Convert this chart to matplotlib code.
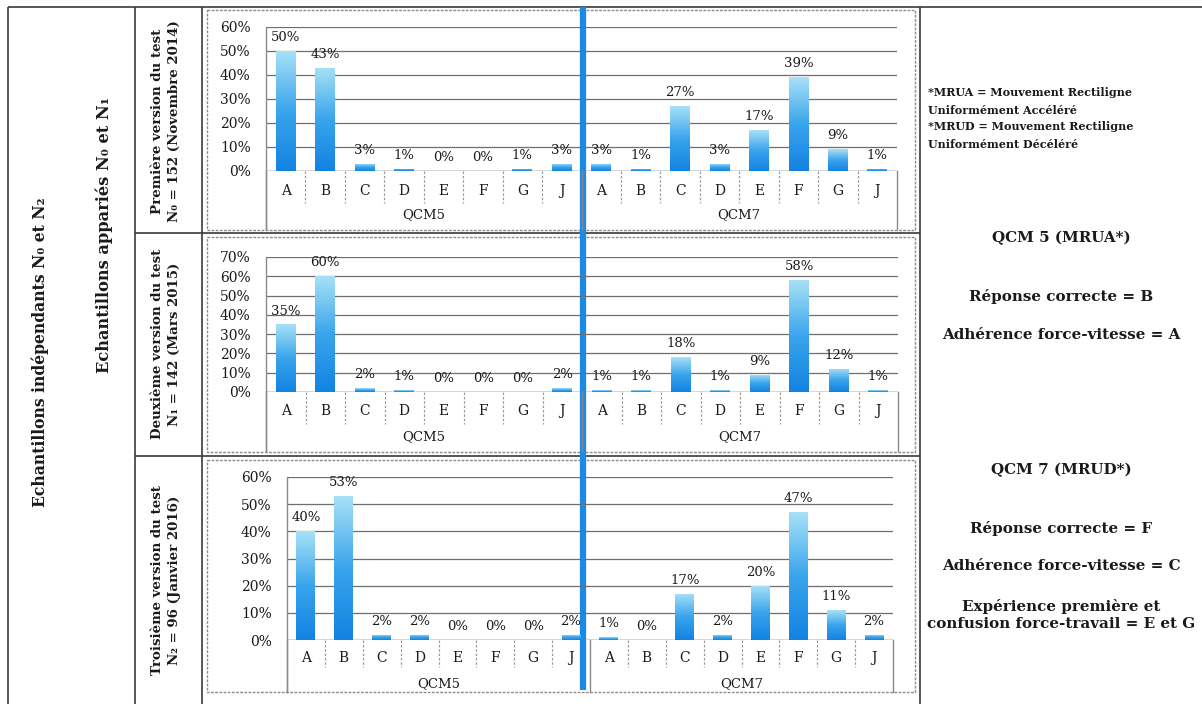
import numpy as np
import matplotlib
matplotlib.use('Agg')
import matplotlib.pyplot as plt
from matplotlib.colors import LinearSegmentedColormap

W, H = 1202, 704

categories = ['A', 'B', 'C', 'D', 'E', 'F', 'G', 'J']
groups = ['QCM5', 'QCM7']

p1_qcm5 = [50, 43, 3, 1, 0, 0, 1, 3]
p1_qcm7 = [3, 1, 27, 3, 17, 39, 9, 1]
p2_qcm5 = [35, 60, 2, 1, 0, 0, 0, 2]
p2_qcm7 = [1, 1, 18, 1, 9, 58, 12, 1]
p3_qcm5 = [40, 53, 2, 2, 0, 0, 0, 2]
p3_qcm7 = [1, 0, 17, 2, 20, 47, 11, 2]
y_max = [60, 70, 60]

row_titles = [
    ('Première version du test', 'N₀ = 152 (Novembre 2014)'),
    ('Deuxième version du test', 'N₁ = 142 (Mars 2015)'),
    ('Troisième version du test', 'N₂ = 96 (Janvier 2016)'),
]
col_title_outer = 'Echantillons indépendants N₀ et N₂'
col_title_inner = 'Echantillons appariés N₀ et N₁'

notes = ['*MRUA = Mouvement Rectiligne', 'Uniformément Accéléré',
         '*MRUD = Mouvement Rectiligne', 'Uniformément Décéléré']
side_texts = ['QCM 5 (MRUA*)', 'Réponse correcte = B', 'Adhérence force-vitesse = A',
              'QCM 7 (MRUD*)', 'Réponse correcte = F', 'Adhérence force-vitesse = C',
              'Expérience première et\nconfusion force-travail = E et G']

SERIF_B = ['DejaVu Serif']
SERIF = ['DejaVu Serif']
TXT = '#1a1a1a'
LINE = '#3a3a3a'

fig = plt.figure(figsize=(W / 100, H / 100), dpi=100)
bg = fig.add_axes([0, 0, 1, 1])
bg.set_xlim(0, W)
bg.set_ylim(H, 0)
bg.axis('off')

# table lines
tl = dict(color=LINE, lw=1.2, solid_capstyle='butt')
bg.plot([8, W], [7, 7], **tl)
bg.plot([8, 8], [7, H], **tl)
bg.plot([135, 135], [7, H], **tl)
bg.plot([202, 202], [7, H], **tl)
bg.plot([920, 920], [7, H], **tl)
bg.plot([135, 920], [233, 233], **tl)
bg.plot([135, 920], [456, 456], **tl)

# column titles
bg.text(40, 352, col_title_outer, rotation=90, ha='center', va='center',
        fontsize=11.25, fontweight='bold', family=SERIF_B, color=TXT)
bg.text(104, 235, col_title_inner, rotation=90, ha='center', va='center',
        fontsize=11.7, fontweight='bold', family=SERIF_B, color=TXT)
row_centers = [121, 344, 580]
for (l1, l2), yc in zip(row_titles, row_centers):
    bg.text(166, yc, l1 + '\n' + l2, rotation=90, ha='center', va='center',
            fontsize=9.6, fontweight='bold', family=SERIF_B, color=TXT,
            linespacing=1.4, multialignment='center')

# notes at right
for i, t in enumerate(notes):
    bg.text(928, 93 + i * 17, t, ha='left', va='center', fontsize=8,
            fontweight='bold', family=SERIF_B, color=TXT)
side_y = [238, 297, 335, 470, 528, 566, 615]
for t, y in zip(side_texts, side_y):
    bg.text(1061, y, t, ha='center', va='center', fontsize=10.9,
            fontweight='bold', family=SERIF_B, color=TXT, linespacing=1.22)

cmap = LinearSegmentedColormap.from_list('bar', ['#1283e2', '#3aa5ec', '#a6e0f7'])
grad = np.linspace(0, 1, 64).reshape(-1, 1)

# panels: axes x0, x1, y_top(ymax), y_zero, cat label y, group y, sep bottom, axis bottom, box
panels = [
    dict(x0=266, x1=897, yt=27, yz=171, ycat=191, ygrp=215, ysep=203, ybot=229,
         box=(207, 10, 915, 230), vals=p1_qcm5 + p1_qcm7, ymax=y_max[0]),
    dict(x0=266, x1=898, yt=257, yz=392, ycat=411, ygrp=437, ysep=424, ybot=451,
         box=(207, 237, 915, 452), vals=p2_qcm5 + p2_qcm7, ymax=y_max[1]),
    dict(x0=287, x1=893, yt=477, yz=640, ycat=658, ygrp=684, ysep=667, ybot=692,
         box=(207, 460, 915, 692), vals=p3_qcm5 + p3_qcm7, ymax=y_max[2]),
]

for p in panels:
    bx0, by0, bx1, by1 = p['box']
    bg.add_patch(plt.Rectangle((bx0, by0), bx1 - bx0, by1 - by0, fill=False,
                               ec='#8c8c8c', lw=1.0, ls=(0, (2, 1))))
    hpx = p['yz'] - p['yt']
    ax = fig.add_axes([p['x0'] / W, 1 - p['yz'] / H, (p['x1'] - p['x0']) / W, hpx / H])
    ax.patch.set_alpha(0)
    labels = categories + categories
    x = np.arange(len(labels))
    vals = p['vals']
    bars = ax.bar(x, vals, width=0.5, color='none', edgecolor='none', zorder=2)
    for b, v in zip(bars, vals):
        if v <= 0:
            continue
        bb = b.get_bbox()
        im = ax.imshow(grad, extent=[bb.x0, bb.x1, bb.y0, bb.y1], origin='lower',
                       aspect='auto', cmap=cmap, zorder=2)
        im.set_clip_path(b)
    for xi, v in zip(x, vals):
        ax.annotate(f'{v}%', (xi, v), xytext=(0, 5), textcoords='offset points',
                    ha='center', va='bottom', fontsize=9.5, family=SERIF, color=TXT)
    ax.set_xlim(-0.5, len(labels) - 0.5)
    ax.set_ylim(0, p['ymax'])
    ax.set_yticks(range(0, p['ymax'] + 1, 10))
    ax.set_yticklabels([f'{t}%' for t in range(0, p['ymax'] + 1, 10)],
                       fontsize=10, family=SERIF, color=TXT)
    ax.tick_params(axis='y', length=0, pad=11)
    ax.set_xticks([])
    for s in ax.spines.values():
        s.set_visible(False)
    ax.yaxis.grid(True, color='#6e6e6e', lw=0.9)
    ax.set_axisbelow(True)
    tr = ax.get_xaxis_transform()
    fy = lambda ypix: (p['yz'] - ypix) / hpx
    # baseline
    ax.plot([-0.5, len(labels) - 0.5], [0, 0], color='#8a8a8a', lw=1.0, zorder=1)
    # y axis line
    ax.plot([-0.5, -0.5], [1, fy(p['ybot'])], transform=tr, color='#8a8a8a',
            lw=1.0, clip_on=False)
    for i in range(len(labels) + 1):
        xb = i - 0.5
        if i % len(categories) == 0:
            ax.plot([xb, xb], [0, fy(p['ybot'])], transform=tr, color='#8a8a8a',
                    lw=1.0, clip_on=False)
        else:
            ax.plot([xb, xb], [0, fy(p['ysep'])], transform=tr, color='#9a9a9a',
                    lw=0.9, ls=(0, (2, 1.5)), clip_on=False)
    for xi, lab in zip(x, labels):
        ax.text(xi, fy(p['ycat']), lab, transform=tr, ha='center', va='center',
                fontsize=10, family=SERIF, color=TXT, clip_on=False)
    for g, grp in enumerate(groups):
        xc = g * len(categories) + (len(categories) - 1) / 2
        ax.text(xc, fy(p['ygrp']), grp, transform=tr, ha='center', va='center',
                fontsize=9.5, family=SERIF, color=TXT, clip_on=False)

# blue separator line between QCM5 and QCM7
bg.plot([583, 583], [7, 690], color='#1a8ae8', lw=4.5, solid_capstyle='butt', zorder=10)

fig.savefig('out.png', dpi=100)
